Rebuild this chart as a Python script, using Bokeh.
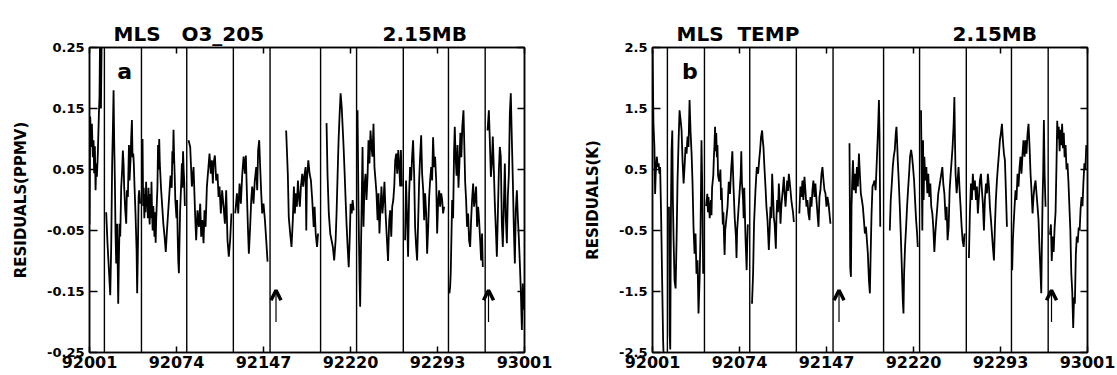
from bokeh.plotting import figure
from bokeh.models import Range1d, FixedTicker, LinearAxis, Label, Arrow, OpenHead, Span, Title
from bokeh.layouts import row
from bokeh.embed import file_html
from bokeh.resources import INLINE

NaN = float("nan")
FONT = "DejaVu Sans"
NB = "\u00a0"

# ---------------- axis / annotation data ----------------
x_tick_days = [1, 74, 147, 220, 293, 366]
x_tick_labels = ["92001", "92074", "92147", "92220", "92293", "93001"]
o3_ticks = [-0.25, -0.15, -0.05, 0.05, 0.15, 0.25]
o3_tick_labels = ["-0.25", "-0.15", "-0.05", "0.05", "0.15", "0.25"]
t_ticks = [-2.5, -1.5, -0.5, 0.5, 1.5, 2.5]
t_tick_labels = ["-2.5", "-1.5", "-0.5", "0.5", "1.5", "2.5"]
yaw_days = [13.5, 44.6, 82.6, 121.7, 152.5, 194.9, 225.1, 264.3, 302.2, 333.0]
arrow_days = [157.5, 335.8]
o3_arrow_y = [-0.20, -0.148]
t_arrow_y = [-2.0, -1.48]
o3_title_parts = ["MLS", "O3_205", "2.15MB"]
o3_title_gaps = [3, 17]
t_title_parts = ["MLS", "TEMP", "2.15MB"]
t_title_gaps = [2, 22]

# ---------------- O3 residuals (ppmv), (day, value) per yaw period ----------------
o3_s0 = [(1.0,-0.04),(1.6,0.137),(2.4,0.087),(3.0,0.125),(3.8,0.07),(4.4,0.098),(4.9,0.044),(5.5,0.088),
         (6.1,0.016),(6.6,0.06),(7.2,0.038),(8.0,0.076),(8.9,0.142),(9.4,0.17),(10.0,0.30),(10.6,0.15),(11.4,0.30)]
o3_s1 = [(15.0,-0.02),(16.1,-0.071),(17.3,-0.115),(18.4,-0.156),(19.2,-0.077),(20.0,0.059),(20.6,0.114),(21.2,0.18),
         (21.7,0.098),(22.3,0.032),(22.8,-0.05),(23.4,-0.104),(24.2,-0.039),(25.1,-0.17),(25.6,-0.104),(26.2,-0.039),
         (26.8,-0.06),(27.6,0.021),(28.4,0.049),(29.0,0.081),(29.6,0.059),(30.1,0.021),(31.0,-0.017),(31.8,-0.039),
         (32.4,0.016),(33.2,0.005),(34.1,0.09),(34.6,0.032),(35.4,0.065),(36.0,0.103),(36.6,0.131),(37.1,0.07),
         (37.7,0.076),(38.2,0.059),(38.8,0.021),(39.6,-0.022),(40.5,-0.082),(41.0,-0.153),(41.6,-0.082),(42.2,0.005),
         (42.7,0.016),(43.5,-0.006)]
o3_s2 = [(45.5,0.10),(46.0,-0.01),(46.5,0.02),(47.0,-0.03),(47.5,0.01),(48.0,-0.02),(48.5,0.03),(49.0,-0.01),
         (49.5,0.0),(50.0,-0.03),(50.5,0.02),(51.0,-0.02),(51.5,-0.04),(52.0,0.01),(52.5,-0.03),(53.0,0.03),
         (53.5,-0.02),(54.0,-0.05),(54.5,-0.01),(55.0,-0.03),(55.5,-0.06),(56.0,-0.02),(56.5,-0.07),(57.0,-0.03),
         (58.0,0.02),(58.5,0.09),(59.0,0.05),(59.5,0.10),(60.0,0.06),(61.0,0.02),(62.0,-0.01),(63.0,-0.04),
         (64.0,-0.06),(65.0,-0.085),(66.0,-0.05),(67.0,-0.02),(68.0,0.01),(69.0,0.04),(70.0,0.02),(70.5,0.08),
         (71.0,0.06),(71.5,0.115),(72.0,0.07),(72.5,0.04),(73.0,0.0),(74.0,-0.03),(74.5,0.0),(75.0,-0.06),
         (75.5,-0.10),(76.0,-0.12),(76.5,-0.07),(77.0,-0.02),(78.0,0.03),(78.5,0.06),(79.0,0.02),(79.5,0.08),
         (80.0,0.05),(80.5,0.03),(81.0,-0.01)]
o3_s3 = [(84.1,0.098),(85.5,0.087),(86.9,0.022),(88.3,0.054),(89.7,-0.028),(90.5,-0.066),(91.6,-0.017),(92.8,-0.044),
         (93.9,-0.006),(94.7,-0.06),(95.6,-0.033),(96.7,-0.071),(97.5,-0.017),(98.4,-0.044),(99.5,0.022),(100.6,0.049),
         (101.7,0.076),(102.8,0.043),(103.7,0.065),(104.5,0.027),(105.1,0.06),(106.2,0.073),(107.3,0.032),(108.4,0.043),
         (109.3,0.005),(110.1,0.022),(111.2,-0.022),(112.3,0.016),(113.5,-0.011),(114.6,-0.039),(115.7,0.016),
         (116.8,-0.066),(117.9,-0.093),(119.0,-0.066),(120.1,-0.022)]
o3_s4 = [(123.3,-0.022),(124.7,0.011),(125.8,-0.022),(126.9,0.027),(128.0,-0.006),(129.2,0.043),(130.3,0.071),
         (131.4,0.043),(132.2,0.073),(133.0,0.016),(133.9,-0.044),(134.7,-0.088),(135.8,-0.044),(136.7,0.0),
         (137.5,0.022),(138.6,-0.006),(139.7,0.032),(140.9,0.054),(141.7,0.016),(142.5,0.082),(143.4,0.098),
         (144.2,0.054),(145.1,0.011),(145.9,-0.022),(147.0,-0.006),(148.2,-0.033),(149.3,-0.066),(150.4,-0.101)]
o3_s5 = [(166.0,0.114),(167.4,0.043),(168.2,-0.028),(169.4,-0.055),(170.5,-0.077),(171.6,-0.033),(172.5,0.022),
         (173.3,-0.022),(174.2,0.011),(175.0,-0.011),(175.9,0.032),(176.7,0.005),(177.5,-0.011),(178.4,0.022),
         (179.5,0.043),(180.3,0.022),(181.2,0.038),(182.3,0.054),(182.9,-0.05),(183.4,0.032),(184.6,0.065),
         (185.7,0.043),(186.8,0.032),(187.9,0.0),(189.1,-0.044),(189.9,-0.011),(190.8,-0.055),(191.9,-0.077),
         (192.8,-0.055)]
o3_s6 = [(199.9,0.126),(200.7,0.043),(201.8,-0.022),(203.0,-0.055),(204.1,-0.066),(205.2,-0.077),(206.3,-0.099),
         (207.5,-0.066),(208.3,-0.022),(209.2,0.043),(210.0,0.098),(210.9,0.142),(211.7,0.175),(212.6,0.153),
         (213.4,0.12),(214.2,0.087),(215.1,0.043),(215.9,0.0),(216.8,-0.044),(217.6,-0.077),(218.5,-0.11),
         (219.3,-0.066),(220.1,-0.006),(221.0,-0.022),(221.8,0.0),(222.6,-0.017)]
o3_s7 = [(225.9,0.147),(226.7,-0.011),(227.6,-0.131),(228.1,-0.175),(228.7,-0.093),(229.2,-0.028),(230.1,0.087),
         (230.9,-0.044),(231.7,0.022),(232.6,0.043),(233.4,0.0),(234.3,0.038),(235.1,0.098),(235.9,0.06),
         (236.8,0.114),(237.6,0.087),(238.4,0.071),(239.3,0.125),(240.1,0.054),(241.0,0.032),(241.8,0.011),
         (242.7,-0.033),(243.5,0.011),(244.3,-0.055),(245.2,-0.011),(246.0,0.022),(246.8,-0.022),(247.7,0.0),
         (248.5,0.03),(249.4,-0.02),(250.3,-0.055),(251.5,-0.10),(252.5,-0.033),(253.3,-0.017),(254.2,-0.06),
         (255.0,-0.011),(255.9,0.0),(256.7,0.022),(257.5,0.065),(258.4,0.076),(259.2,0.043),(260.1,0.082),
         (260.9,0.054),(261.7,0.022),(262.3,0.082),(263.1,0.022)]
o3_s8 = [(265.8,-0.066),(266.6,0.032),(267.5,-0.028),(268.3,-0.093),(269.2,0.011),(270.0,0.054),(270.9,0.032),
         (271.7,0.071),(272.5,0.098),(273.4,0.043),(274.2,-0.044),(275.1,-0.077),(275.9,-0.099),(276.8,-0.033),
         (277.6,0.032),(278.4,0.071),(279.3,0.106),(280.1,0.043),(281.0,0.016),(281.8,-0.033),(282.6,0.011),
         (283.5,-0.022),(284.3,-0.088),(285.2,-0.044),(286.0,0.005),(286.8,0.032),(287.7,0.054),(288.5,0.032),
         (289.3,0.103),(290.2,0.054),(291.0,0.071),(291.9,0.032),(292.7,-0.055),(293.6,0.0),(294.4,0.016),
         (295.2,-0.011),(296.1,0.011),(296.9,0.0),(297.7,-0.022),(298.6,-0.011)]
o3_s9 = [(303.0,-0.153),(303.6,-0.142),(304.1,-0.12),(304.7,-0.06),(305.3,0.0),(306.1,-0.03),(306.9,0.08),
         (307.5,0.12),(308.2,0.07),(309.0,0.04),(309.8,0.09),(310.6,0.02),(311.4,0.06),(312.2,0.11),(313.0,0.07),
         (313.8,0.12),(314.8,0.147),(315.5,0.09),(316.2,0.03),(317.0,0.0),(317.8,-0.044),(318.7,-0.022),
         (319.5,-0.066),(320.4,-0.077),(321.2,-0.033),(322.0,0.0),(322.9,0.027),(323.7,-0.011),(324.6,0.005),
         (325.4,0.022),(326.2,-0.044),(327.1,-0.011),(327.9,-0.033),(328.8,-0.066),(329.6,-0.099),(330.4,-0.055),
         (331.0,-0.11)]
o3_s10 = [(335.0,0.114),(336.1,0.147),(336.9,0.098),(337.8,0.038),(338.6,0.06),(339.4,0.104),(340.3,0.049),
          (341.1,-0.006),(342.0,-0.05),(342.8,-0.093),(343.6,-0.028),(344.5,0.049),(345.3,0.087),(346.1,0.071),
          (347.0,-0.039),(347.8,-0.077),(348.7,-0.006),(349.5,0.06),(350.3,-0.028),(351.2,-0.071),(352.0,0.005),
          (352.9,0.043),(353.7,0.142),(354.5,0.175),(355.4,0.098),(356.2,0.033),(357.1,-0.05),(357.9,-0.104),
          (358.7,-0.017),(359.6,0.016),(360.4,-0.028),(361.2,-0.06),(362.1,-0.104),(362.9,-0.148),(363.8,-0.213),
          (364.6,-0.137),(365.5,-0.18)]

# ---------------- Temperature residuals (K), (day, value) per yaw period ----------------
t_s0 = [(1.0,2.46),(1.8,1.25),(2.6,0.87),(3.2,0.1),(3.7,0.43),(4.6,0.71),(5.4,0.54),(6.2,0.6),(6.8,0.43),
        (7.4,0.54),(8.2,-0.22),(9.0,-1.21),(9.9,-2.3),(10.7,-2.8)]
t_s1 = [(14.8,-0.11),(15.4,-2.2),(15.9,-2.45),(16.5,-0.11),(17.0,0.82),(17.6,1.14),(18.1,0.0),(18.7,-0.66),
        (19.5,-1.32),(20.4,-1.45),(21.2,-0.66),(22.0,0.32),(22.9,0.98),(23.7,1.47),(24.6,1.31),(25.4,1.14),
        (26.2,0.65),(27.1,0.27),(27.9,0.54),(28.7,0.87),(29.6,0.76),(30.4,1.04),(31.2,0.87),(32.1,1.64),
        (32.9,1.14),(33.8,0.76),(34.6,0.27),(35.4,-0.44),(36.3,-0.88),(37.1,-0.55),(37.9,-1.21),(38.8,-0.99),
        (39.6,-1.86),(40.5,-1.32),(41.3,-0.55),(42.1,0.98),(43.0,-0.11),(43.5,-1.21)]
t_s2 = [(46.0,-0.1),(47.0,0.1),(47.5,-0.2),(48.0,0.05),(49.0,-0.3),(50.0,0.0),(50.5,-0.25),(51.0,0.2),(52.0,0.4),
        (52.5,0.7),(53.0,0.9),(53.5,1.2),(54.0,0.8),(54.5,1.1),(55.0,0.7),(55.5,0.9),(56.0,0.4),(57.0,0.3),
        (58.0,0.5),(58.5,0.0),(59.0,0.2),(60.0,-0.4),(60.5,-0.2),(61.0,-0.6),(61.5,-0.9),(62.0,-0.5),(63.0,-0.3),
        (64.0,-0.1),(65.0,0.3),(66.0,0.1),(67.0,0.5),(68.0,0.8),(68.5,0.5),(69.0,0.2),(70.0,-0.3),(71.0,-0.6),
        (71.5,-0.95),(72.0,-0.5),(73.0,-0.2),(74.0,0.1),(75.0,0.4),(75.5,0.8),(76.0,0.3),(77.0,0.0),(77.5,-0.3),
        (78.0,0.2),(79.0,-0.6),(80.0,-1.15),(80.5,-0.7),(81.0,-0.4)]
t_s3 = [(84.5,-1.7),(85.4,-1.21),(86.2,-0.39),(87.4,0.16),(88.5,0.54),(89.6,0.43),(90.5,0.65),(91.3,0.82),
        (92.1,1.04),(93.0,1.14),(93.5,0.98),(94.1,0.87),(94.9,0.54),(95.8,0.22),(96.6,-0.11),(97.5,-0.33),
        (98.6,-0.82),(99.3,-0.5),(100.0,-0.11),(100.7,-0.3),(101.4,0.43),(102.1,0.1),(102.8,-0.28),(103.5,-0.4),
        (104.5,-0.8),(105.0,-0.3),(105.6,0.0),(106.3,-0.2),(107.0,0.27),(107.7,0.0),(108.4,-0.39),(109.1,-0.1),
        (109.8,0.05),(110.5,0.2),(111.2,0.38),(111.9,0.1),(112.6,-0.11),(113.3,0.1),(114.0,0.32),(114.7,0.15),
        (115.4,0.43),(116.1,0.3),(116.8,0.16),(117.5,0.0),(118.2,-0.11),(118.9,-0.2),(119.6,-0.36)]
t_s4 = [(124.2,-0.22),(125.1,0.22),(125.9,0.05),(126.8,0.32),(127.6,0.0),(128.5,0.38),(129.3,0.16),(130.2,-0.11),
        (131.0,0.0),(131.8,-0.22),(132.7,-0.33),(133.5,0.05),(134.4,-0.11),(135.2,0.16),(136.0,0.32),(136.9,0.05),
        (137.7,0.27),(138.6,0.0),(139.4,-0.22),(140.3,-0.44),(141.1,0.05),(141.9,0.16),(142.8,0.43),(143.6,0.54),
        (144.5,0.32),(145.3,0.16),(146.1,0.11),(147.0,-0.11),(147.8,0.05),(148.7,-0.06),(149.5,-0.22),(150.3,-0.39)]
t_s5 = [(166.3,0.93),(166.9,-1.1),(167.5,-1.26),(168.0,-0.11),(168.6,0.32),(169.2,0.65),(170.0,0.16),(170.8,0.43),
        (171.6,0.11),(172.5,0.54),(173.3,0.22),(174.2,0.76),(175.0,0.43),(175.8,0.11),(176.7,0.0),(177.5,-0.11),
        (178.4,-0.33),(179.2,-0.55),(180.1,-0.44),(180.9,-0.66),(181.7,-0.88),(182.6,-1.32),(183.4,-1.53),
        (184.0,-0.93),(184.8,-0.22),(185.6,0.22),(186.5,0.27),(187.3,0.32),(188.2,0.16),(189.0,0.54),(189.9,0.98),
        (190.4,1.25),(191.0,1.64),(191.5,1.09),(192.1,-0.44)]
t_s6 = [(200.1,-0.5),(200.9,0.0),(201.8,0.27),(202.6,0.54),(203.4,0.71),(204.3,0.82),(205.1,1.09),(205.7,1.2),
        (206.2,0.98),(206.8,0.65),(207.6,0.32),(208.5,-0.11),(209.3,-0.55),(210.2,-1.1),(211.0,-1.64),(211.6,-1.86),
        (212.1,-1.21),(212.9,-0.77),(213.8,-0.44),(214.6,-0.11),(215.4,0.16),(216.3,0.43),(217.1,0.71),(218.0,0.82),
        (218.8,0.71),(219.6,0.54),(220.5,0.32),(221.3,0.0),(222.2,-0.33),(223.0,-0.55),(223.6,-0.77)]
t_s7 = [(226.3,1.47),(226.9,0.43),(227.4,-0.5),(228.0,0.98),(228.5,0.0),(229.1,0.71),(229.9,0.32),(230.8,0.54),
        (231.6,0.11),(232.4,0.43),(233.3,0.05),(234.1,0.27),(234.9,-0.11),(235.8,-0.22),(236.6,-0.44),(237.5,-0.85),
        (238.3,-0.55),(239.1,-0.33),(240.0,-0.11),(240.8,0.11),(241.7,0.22),(242.5,0.32),(243.3,0.43),(244.2,0.54),
        (245.0,0.27),(245.9,0.11),(247.0,-0.33),(247.8,-0.11),(248.6,-0.66),(249.5,-0.44),(250.3,0.16),(251.2,0.43),
        (252.0,0.65),(252.8,0.87),(253.7,1.25),(254.3,1.69),(254.8,0.98),(255.3,0.43),(256.2,0.11),(257.0,0.32),
        (257.8,0.54),(258.7,0.16),(259.5,-0.11),(260.4,-0.44),(261.2,-0.66),(262.1,-0.77),(262.9,-0.55)]
t_s8 = [(266.5,-0.95),(267.3,-0.22),(268.2,0.27),(269.0,0.0),(269.8,0.43),(270.7,0.16),(271.5,0.32),(272.4,0.0),
        (273.2,0.22),(274.0,-0.22),(274.9,0.05),(275.7,0.32),(276.6,0.43),(277.4,0.16),(278.2,-0.06),(279.1,-0.5),
        (279.9,0.0),(280.8,0.27),(281.6,0.11),(282.4,0.43),(283.3,0.22),(284.1,-0.11),(285.0,-0.33),(285.8,-0.55),
        (286.6,-0.77),(287.5,-0.99),(288.3,-0.44),(289.1,0.0),(290.0,0.32),(290.8,0.54),(291.7,0.76),(292.5,0.98),
        (293.3,1.09),(294.2,1.25),(295.0,0.98),(295.9,0.76),(296.7,0.65),(297.5,0.16),(298.4,-0.44)]
t_s9 = [(302.8,-1.15),(303.4,-0.66),(303.9,-0.44),(304.8,-0.11),(305.6,0.16),(306.4,0.0),(307.3,0.43),(308.1,0.22),
        (309.0,0.54),(309.8,0.71),(310.6,0.43),(311.5,0.76),(312.3,0.98),(313.2,0.71),(314.0,0.98),(314.8,0.76),
        (315.7,1.09),(316.5,1.25),(317.4,0.87),(318.2,0.43),(319.0,0.16),(319.9,-0.22),(320.7,0.05),(321.5,0.22),
        (322.4,0.32),(323.2,0.11),(324.1,-0.11),(324.9,-0.33),(325.7,-0.77),(326.6,-1.21),(327.2,-1.53),(327.7,-0.77),
        (328.3,0.0),(328.8,0.43),(329.4,1.31),(330.0,0.43),(330.8,-0.11)]
t_s10 = [(334.5,-0.57),(335.3,-0.4),(336.0,-1.0),(336.8,-0.6),(337.6,-0.85),(338.4,-0.45),(339.2,-0.2),(340.0,0.6),
         (340.6,1.3),(341.2,1.0),(341.9,1.2),(342.6,0.8),(343.3,1.15),(344.0,0.9),(344.7,1.25),(345.4,0.85),
         (346.1,1.1),(346.8,0.7),(347.6,0.9),(348.4,0.5),(349.2,0.6),(350.0,0.3),(350.8,-0.1),(351.6,-0.5),
         (352.4,-1.2),(353.2,-1.5),(354.0,-2.1),(354.7,-1.6),(355.4,-1.7),(356.2,-0.9),(357.0,-0.6),(357.8,-0.7),
         (358.6,-0.45),(359.4,-0.5),(360.2,-0.15),(361.0,0.05),(361.8,-0.1),(362.6,0.3),(363.4,0.6),(364.2,0.5),
         (365.0,0.9)]

o3_segments = [o3_s0, o3_s1, o3_s2, o3_s3, o3_s4, o3_s5, o3_s6, o3_s7, o3_s8, o3_s9, o3_s10]
t_segments = [t_s0, t_s1, t_s2, t_s3, t_s4, t_s5, t_s6, t_s7, t_s8, t_s9, t_s10]


def join_segments(segments):
    xs, ys = [], []
    for k, seg in enumerate(segments):
        if k:
            xs.append(NaN)
            ys.append(NaN)
        for d, v in seg:
            xs.append(d)
            ys.append(v)
    return xs, ys


def title_text(parts, gaps):
    return parts[0] + NB * gaps[0] + parts[1] + NB * gaps[1] + parts[2]


def style_axis(ax, tick_in, show_labels=True, size="13px", hidden_standoff=0):
    ax.major_tick_in = tick_in
    ax.major_tick_out = 0
    ax.minor_tick_in = 0
    ax.minor_tick_out = 0
    ax.axis_line_color = "black"
    ax.axis_line_width = 1.5
    ax.major_tick_line_color = "black"
    ax.major_tick_line_width = 1.5
    ax.major_label_text_font = FONT
    ax.major_label_text_font_style = "bold"
    ax.major_label_text_color = "black" if show_labels else None
    ax.major_label_text_font_size = size if show_labels else "1px"
    if not show_labels:
        ax.major_label_standoff = hidden_standoff


def panel(width, left, right, ylo, yhi, yticks, ylabels, ylabel, segments,
          title, letter, letter_day, letter_y, arrow_y):
    p = figure(width=width, height=375, x_range=Range1d(1, 366), y_range=Range1d(ylo, yhi),
               output_backend="svg", toolbar_location=None,
               min_border_left=left, min_border_right=right, min_border_top=47, min_border_bottom=23)
    p.title = Title(text=title, align="left", offset=24, text_font=FONT, text_font_style="bold",
                    text_font_size="20px", text_color="black", standoff=4)
    p.xgrid.visible = False
    p.ygrid.visible = False
    p.outline_line_color = "black"
    p.outline_line_width = 1.5
    p.background_fill_color = "white"
    p.border_fill_color = "white"

    xt = FixedTicker(ticks=x_tick_days)
    yt = FixedTicker(ticks=yticks)
    p.xaxis.ticker = xt
    p.xaxis.major_label_overrides = {d: s for d, s in zip(x_tick_days, x_tick_labels)}
    p.yaxis.ticker = yt
    p.yaxis.major_label_overrides = {d: s for d, s in zip(yticks, ylabels)}
    style_axis(p.xaxis[0], 6, True, "16px")
    style_axis(p.yaxis[0], 8, True, "13px")
    p.xaxis.major_label_standoff = 3
    p.yaxis.major_label_standoff = 5
    p.yaxis.axis_label = ylabel
    p.yaxis.axis_label_text_font = FONT
    p.yaxis.axis_label_text_font_style = "bold"
    p.yaxis.axis_label_text_font_size = "15px"
    p.yaxis.axis_label_text_color = "black"
    p.yaxis.axis_label_standoff = 14

    top = LinearAxis(ticker=xt)
    style_axis(top, 6, False, hidden_standoff=5)
    p.add_layout(top, "above")
    rgt = LinearAxis(ticker=yt)
    style_axis(rgt, 7, False)
    p.add_layout(rgt, "right")

    for d in yaw_days:
        p.add_layout(Span(location=d, dimension="height", line_color="black", line_width=1.4))

    xs, ys = join_segments(segments)
    p.line(x=xs, y=ys, line_color="black", line_width=1.8)

    for d in arrow_days:
        p.add_layout(Arrow(end=OpenHead(size=10, line_width=3.5, line_color="black"),
                           x_start=d, y_start=arrow_y[0], x_end=d, y_end=arrow_y[1],
                           line_color="black", line_width=1.2))

    p.add_layout(Label(x=letter_day, y=letter_y, text=letter, text_font=FONT, text_font_style="bold",
                       text_font_size="22px", text_color="black", text_baseline="alphabetic"))
    return p


p1 = panel(579, 89, 55, -0.25, 0.25, o3_ticks, o3_tick_labels, "RESIDUALS(PPMV)", o3_segments,
           title_text(o3_title_parts, o3_title_gaps), "a", 24.2, 0.21, o3_arrow_y)
p2 = panel(538, 73, 30, -2.5, 2.5, t_ticks, t_tick_labels, "RESIDUALS(K)", t_segments,
           title_text(t_title_parts, t_title_gaps), "b", 25.7, 2.1, t_arrow_y)

layout = row(p1, p2)
open("out.html", "w").write(file_html(layout, INLINE))
